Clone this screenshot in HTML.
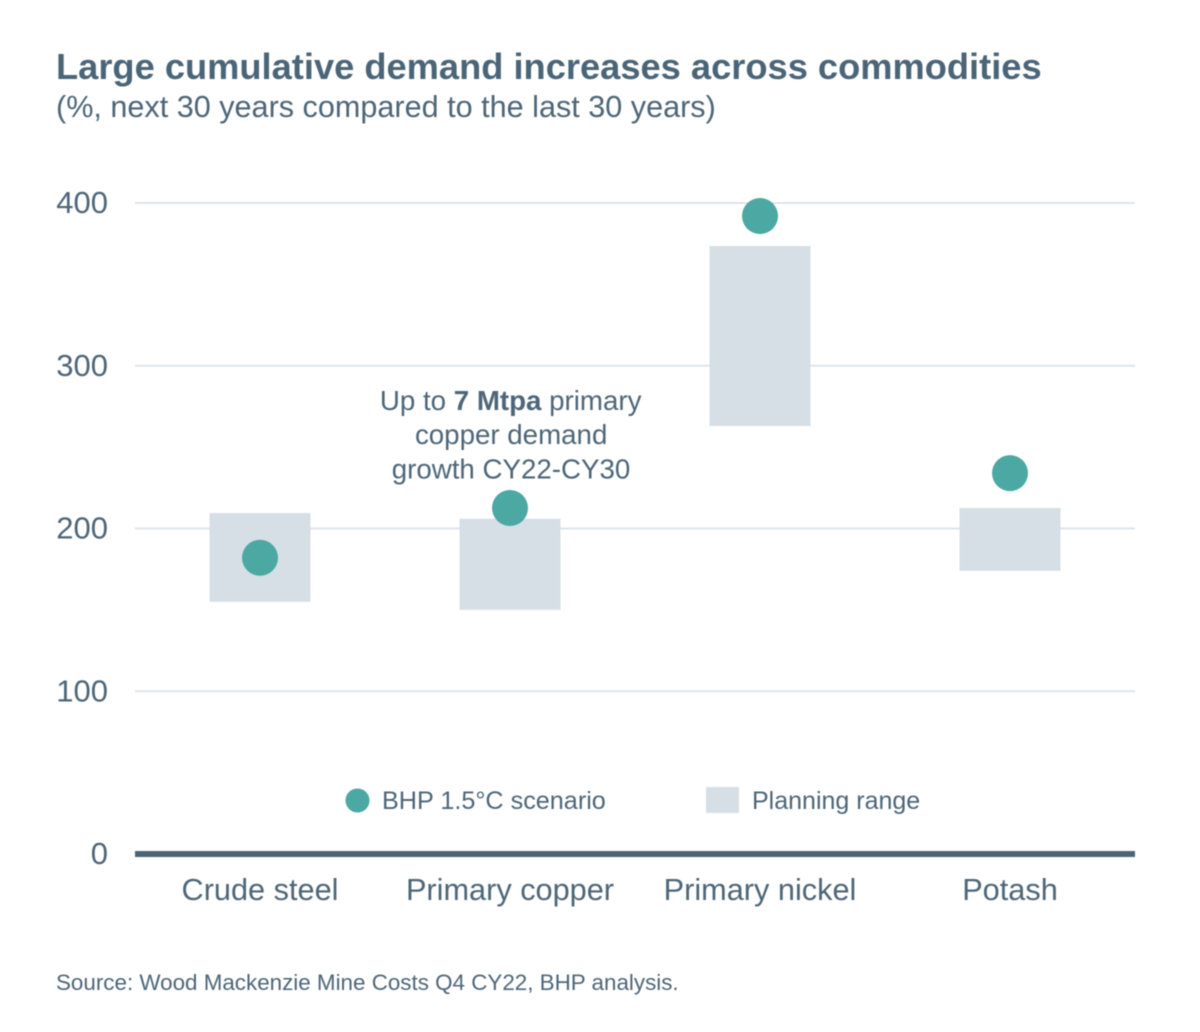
<!DOCTYPE html>
<html lang="en">
<head>
<meta charset="utf-8">
<title>Large cumulative demand increases across commodities</title>
<style>
html,body{margin:0;padding:0;background:#fff;}
svg{display:block;font-family:"Liberation Sans",Arial,sans-serif;filter:blur(0.45px);}
text{fill:#4d6678;}
</style>
</head>
<body>
<svg id="chart" width="1200" height="1032" viewBox="0 0 1200 1032" xmlns="http://www.w3.org/2000/svg">
  <rect width="1200" height="1032" fill="#fff"/>
  <text x="56" y="79" font-size="36.27" font-weight="700" style="fill:#4a6578">Large cumulative demand increases across commodities</text>
  <text x="56" y="117" font-size="30.6">(%, next 30 years compared to the last 30 years)</text>
  <g id="grid"></g>
  <g id="ranges"></g>
  <g id="axis"></g>
  <g id="cats"></g>
  <g id="dots"></g>
  <text font-size="27.7" text-anchor="middle">
    <tspan x="514.500" y="410">Up to <tspan font-weight="700">7 Mtpa</tspan> primary</tspan>
    <tspan x="515" y="444">copper demand</tspan>
    <tspan x="511" y="478.500">growth CY22-CY30</tspan>
  </text>
  <g>
    <circle cx="357.500" cy="800.500" r="12" fill="#4ba8a2"/>
    <text x="382" y="809" font-size="25.2">BHP 1.5°C scenario</text>
    <rect x="706" y="787" width="33" height="26" fill="#d6dfe6"/>
    <text x="752" y="809" font-size="25">Planning range</text>
  </g>
  <text x="56" y="990" font-size="22.4">Source: Wood Mackenzie Mine Costs Q4 CY22, BHP analysis.</text>
</svg>
<script>
const categories = ['Crude steel', 'Primary copper', 'Primary nickel', 'Potash'];
const rangeLow = [155, 150, 263, 174];
const rangeHigh = [209.5, 206, 373.6, 212.6];
const scenario = [182, 212.6, 392, 234];
const yTicks = [0, 100, 200, 300, 400];

const NS = 'http://www.w3.org/2000/svg';
const plotLeft = 135, plotRight = 1135, zeroY = 854, pxPerUnit = 1.6275;
const y = v => zeroY - v * pxPerUnit;
const band = (plotRight - plotLeft) / categories.length;
const x = i => plotLeft + band * (i + 0.5);
const BAR_W = 101, DOT_R = 18;

function make(parent, tag, attrs, txt) {
  const el = document.createElementNS(NS, tag);
  for (const k in attrs) el.setAttribute(k, attrs[k]);
  if (txt !== undefined) el.textContent = txt;
  parent.appendChild(el);
  return el;
}

const grid = document.getElementById('grid');
const axis = document.getElementById('axis');
yTicks.forEach(t => {
  const line = make(grid, 'line', {x1: plotLeft, x2: plotRight, y1: y(t), y2: y(t), stroke: t === 0 ? '#4a6578' : '#dce5ec', 'stroke-width': t === 0 ? 6 : 2});
  
  
  const label = make(axis, 'text', {x: 108, y: y(t) + 10, 'font-size': 31, 'text-anchor': 'end'}, t);
  
  
});

const ranges = document.getElementById('ranges');
const cats = document.getElementById('cats');
const dots = document.getElementById('dots');
categories.forEach((c, i) => {
  const slug = c.toLowerCase().replace(/\s+/g, '-');
  const bar = make(ranges, 'rect', {x: x(i) - BAR_W / 2, y: y(rangeHigh[i]), width: BAR_W, height: y(rangeLow[i]) - y(rangeHigh[i]), fill: '#d6dfe6'});
  
  
  const dot = make(dots, 'circle', {cx: x(i), cy: y(scenario[i]), r: DOT_R, fill: '#4ba8a2'});
  
  
  const label = make(cats, 'text', {x: x(i), y: 900, 'font-size': 30.7, 'text-anchor': 'middle'}, c);
  
  
});
</script>
</body>
</html>
